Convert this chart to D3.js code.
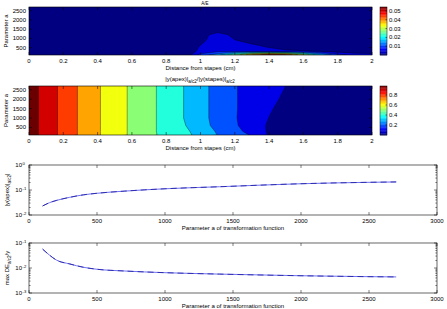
<!DOCTYPE html>
<html><head><meta charset="utf-8">
<script src="https://cdn.jsdelivr.net/npm/d3@7"></script>
<style>
body{margin:0;background:#fff}
text{font-family:"Liberation Sans",Arial,sans-serif;font-size:6px;fill:#000}
</style>
</head><body>
<svg id="c" width="447" height="309"></svg>
<script>
// ---------- data ----------
const distances = [0,0.1,0.2,0.3,0.4,0.5,0.6,0.7,0.8,0.9,1.0,1.1,1.2,1.3,1.4,1.5,1.6,1.7,1.8,1.9,2.0];

// panel 1 field (rows = parameter a, columns = distances)
const gridA1 = [100,300,600,900,1200,1500,2000,2700];
const field1 = [
  [0,0,0,0,0,0,0,0,0,0,0.012,0.018,0.03,0.045,0.054,0.05,0.035,0.02,0.012,0.008,0.007],
  [0,0,0,0,0,0,0,0,0,0.002,0.006,0.009,0.009,0.008,0.007,0.006,0.0055,0.0045,0.003,0.002,0.002],
  [0,0,0,0,0,0,0,0,0,0.002,0.0052,0.0095,0.008,0.006,0.004,0.002,0.001,0,0,0,0],
  [0,0,0,0,0,0,0,0,0,0.001,0.003,0.009,0.0052,0.003,0.001,0,0,0,0,0,0],
  [0,0,0,0,0,0,0,0,0,0,0.002,0.008,0.003,0.001,0,0,0,0,0,0,0],
  [0,0,0,0,0,0,0,0,0,0,0,0,0,0,0,0,0,0,0,0,0],
  [0,0,0,0,0,0,0,0,0,0,0,0,0,0,0,0,0,0,0,0,0],
  [0,0,0,0,0,0,0,0,0,0,0,0,0,0,0,0,0,0,0,0,0]
];
const levels1 = [0.005,0.01,0.015,0.02,0.025,0.03,0.035,0.04,0.045,0.05];
const cbMax1 = 0.0545;
const cbTicks1 = [0.01,0.02,0.03,0.04,0.05];

// panel 2 field
const gridA2 = [100,300,600,1000,1500,2000,2700];
const field2 = [
  [1.05,0.959,0.870,0.785,0.711,0.645,0.583,0.526,0.47,0.44,0.36,0.298,0.25,0.19,0.09,0.07,0.058,0.05,0.044,0.038,0.034],
  [1.05,0.959,0.870,0.785,0.711,0.645,0.583,0.526,0.465,0.43,0.35,0.29,0.225,0.17,0.085,0.065,0.055,0.048,0.042,0.036,0.032],
  [1.05,0.959,0.870,0.785,0.711,0.645,0.583,0.526,0.465,0.41,0.34,0.27,0.21,0.16,0.085,0.065,0.055,0.048,0.042,0.036,0.032],
  [1.05,0.959,0.870,0.785,0.711,0.645,0.583,0.526,0.465,0.401,0.331,0.267,0.206,0.16,0.098,0.07,0.06,0.05,0.044,0.038,0.034],
  [1.05,0.959,0.870,0.785,0.711,0.645,0.583,0.526,0.465,0.401,0.331,0.267,0.206,0.169,0.11,0.07,0.06,0.052,0.045,0.04,0.035],
  [1.05,0.959,0.870,0.785,0.711,0.645,0.583,0.526,0.465,0.401,0.331,0.267,0.206,0.169,0.12,0.085,0.07,0.06,0.05,0.042,0.038],
  [1.05,0.959,0.870,0.785,0.711,0.645,0.583,0.526,0.465,0.401,0.331,0.267,0.206,0.169,0.134,0.099,0.08,0.065,0.055,0.045,0.04]
];
const levels2 = [0.1,0.2,0.3,0.4,0.5,0.6,0.7,0.8,0.9,1.0];
const cbMax2 = 0.98;
const cbTicks2 = [0.2,0.4,0.6,0.8];

const distTicks = [0,0.2,0.4,0.6,0.8,1,1.2,1.4,1.6,1.8,2];
const paramTicks = [500,1000,1500,2000,2500];

// panel 3 & 4 series
const paramA = [100,150,200,300,400,500,700,1000,1400,2000,2500,2700];
const apexAmp = [0.023,0.031,0.038,0.051,0.064,0.074,0.09,0.112,0.135,0.178,0.203,0.21];
const maxDE = [0.057,0.033,0.021,0.0145,0.0107,0.0089,0.0076,0.0065,0.0057,0.0049,0.0045,0.0044];
const aTicks = [0,500,1000,1500,2000,2500,3000];

// ---------- drawing ----------
const svg = d3.select("#c");
function jet(t){
  const c = v => Math.max(0, Math.min(1, v));
  return d3.rgb(255*c(1.5-Math.abs(4*t-3)), 255*c(1.5-Math.abs(4*t-2)), 255*c(1.5-Math.abs(4*t-1)));
}
const TK = 3;
let clipN = 0;

function contourPanel(cfg){
  const {x0,x1,y0,y1,field,rows,levels,cmax,cbTicks,ylab} = cfg;
  const xs = d3.scaleLinear().domain([0,2]).range([x0,x1]);
  const ys = d3.scaleLinear().domain([100,2700]).range([y1,y0]);
  const id = "clip"+(clipN++);
  svg.append("clipPath").attr("id",id).append("rect")
    .attr("x",x0).attr("y",y0).attr("width",x1-x0).attr("height",y1-y0);
  const g = svg.append("g").attr("clip-path",`url(#${id})`);
  g.append("rect").attr("x",x0).attr("y",y0).attr("width",x1-x0).attr("height",y1-y0).attr("fill",jet(0));
  const n = distances.length, m = rows.length;
  const gx = d3.scaleLinear().domain([0.5,n-0.5]).range([distances[0],distances[n-1]]);
  const gy = d3.scaleLinear().domain(rows.map((_,i)=>i+0.5)).range(rows);
  const proj = d3.geoTransform({point(x,y){ this.stream.point(xs(gx(x)), ys(gy(y))); }});
  const path = d3.geoPath(proj);
  const cs = d3.contours().size([n,m]).thresholds(levels)(field.flat());
  g.selectAll("path.f").data(cs).join("path").attr("class","f")
    .attr("d",path).attr("fill",d=>jet(d.value/cmax)).attr("stroke","none");
  g.selectAll("path.l").data(cs).join("path").attr("class","l")
    .attr("d",path).attr("fill","none").attr("stroke","#000").attr("stroke-width",0.45).attr("stroke-opacity",0.8);

  // box
  svg.append("rect").attr("x",x0).attr("y",y0).attr("width",x1-x0).attr("height",y1-y0)
    .attr("fill","none").attr("stroke","#000").attr("stroke-width",0.6);
  // ticks
  const ax = svg.append("g").attr("stroke","#000").attr("stroke-width",0.5);
  distTicks.forEach(t=>{
    ax.append("line").attr("x1",xs(t)).attr("x2",xs(t)).attr("y1",y1).attr("y2",y1-TK);
    ax.append("line").attr("x1",xs(t)).attr("x2",xs(t)).attr("y1",y0).attr("y2",y0+TK);
  });
  paramTicks.forEach(t=>{
    ax.append("line").attr("x1",x0).attr("x2",x0+TK).attr("y1",ys(t)).attr("y2",ys(t));
    ax.append("line").attr("x1",x1).attr("x2",x1-TK).attr("y1",ys(t)).attr("y2",ys(t));
  });
  distTicks.forEach(t=>{
    svg.append("text").attr("x",xs(t)).attr("y",y1+8).attr("text-anchor","middle").text(String(+t.toFixed(1)));
  });
  paramTicks.forEach(t=>{
    svg.append("text").attr("x",x0-3).attr("y",ys(t)+2).attr("text-anchor","end").text(t);
  });
  svg.append("text").attr("x",(x0+x1)/2).attr("y",y1+15).attr("text-anchor","middle").text("Distance from stapes (cm)");
  svg.append("text").attr("transform",`translate(8,${(y0+y1)/2}) rotate(-90)`).attr("text-anchor","middle").text(ylab);

  // colorbar
  const cx0 = 380, cx1 = 387;
  const cs2 = d3.scaleLinear().domain([0,cmax]).range([y1,y0]);
  const steps = d3.range(0,64);
  svg.append("g").selectAll("rect").data(steps).join("rect")
    .attr("x",cx0).attr("width",cx1-cx0)
    .attr("y",i=>cs2(cmax*(i+1)/64)).attr("height",i=>cs2(cmax*i/64)-cs2(cmax*(i+1)/64)+0.3)
    .attr("fill",i=>jet((i+0.5)/64));
  svg.append("rect").attr("x",cx0).attr("y",y0).attr("width",cx1-cx0).attr("height",y1-y0)
    .attr("fill","none").attr("stroke","#000").attr("stroke-width",0.5);
  cbTicks.forEach(t=>{
    svg.append("line").attr("x1",cx1).attr("x2",cx1-1.5).attr("y1",cs2(t)).attr("y2",cs2(t)).attr("stroke","#000").attr("stroke-width",0.5);
    svg.append("text").attr("x",cx1+2).attr("y",cs2(t)+2).text(String(t));
  });
}

contourPanel({x0:29,x1:372,y0:7,y1:55,field:field1,rows:gridA1,levels:levels1,cmax:cbMax1,cbTicks:cbTicks1,ylab:"Parameter a"});
contourPanel({x0:29,x1:372,y0:86,y1:135,field:field2,rows:gridA2,levels:levels2,cmax:cbMax2,cbTicks:cbTicks2,ylab:"Parameter a"});

// titles
svg.append("text").attr("x",205).attr("y",4.5).attr("text-anchor","middle").style("font-size","4.5px").text("A/E");
const t2 = svg.append("text").attr("x",200).attr("y",81).attr("text-anchor","middle");
t2.append("tspan").text("|y(apex)|");
t2.append("tspan").attr("dy",1.5).style("font-size","4.5px").text("a/c2");
t2.append("tspan").attr("dy",-1.5).text("/|y(stapes)|");
t2.append("tspan").attr("dy",1.5).style("font-size","4.5px").text("a/c2");

function linePanel(cfg){
  const {x0,x1,y0,y1,ydom,xv,yv,ylabParts} = cfg;
  const xs = d3.scaleLinear().domain([0,3000]).range([x0,x1]);
  const ys = d3.scaleLog().domain(ydom).range([y1,y0]);
  svg.append("rect").attr("x",x0).attr("y",y0).attr("width",x1-x0).attr("height",y1-y0)
    .attr("fill","#fff").attr("stroke","#000").attr("stroke-width",0.6);
  const ax = svg.append("g").attr("stroke","#000").attr("stroke-width",0.5);
  aTicks.forEach(t=>{
    ax.append("line").attr("x1",xs(t)).attr("x2",xs(t)).attr("y1",y1).attr("y2",y1-TK);
    ax.append("line").attr("x1",xs(t)).attr("x2",xs(t)).attr("y1",y0).attr("y2",y0+TK);
    svg.append("text").attr("x",xs(t)).attr("y",y1+8).attr("text-anchor","middle").text(t);
  });
  const lo = Math.log10(ydom[0]), hi = Math.log10(ydom[1]);
  for(let e=lo;e<=hi;e++){
    const v = Math.pow(10,e);
    ax.append("line").attr("x1",x0).attr("x2",x0+TK).attr("y1",ys(v)).attr("y2",ys(v));
    ax.append("line").attr("x1",x1).attr("x2",x1-TK).attr("y1",ys(v)).attr("y2",ys(v));
    svg.append("text").attr("x",x0-7).attr("y",ys(v)+2).attr("text-anchor","end").text("10");
    svg.append("text").attr("x",x0-6.5).attr("y",ys(v)-0.5).style("font-size","4.2px").text(String(e));
    if(e<hi){
      for(let k=2;k<10;k++){
        const mv = k*v;
        ax.append("line").attr("x1",x0).attr("x2",x0+1.6).attr("y1",ys(mv)).attr("y2",ys(mv));
        ax.append("line").attr("x1",x1).attr("x2",x1-1.6).attr("y1",ys(mv)).attr("y2",ys(mv));
      }
    }
  }
  const line = d3.line().x((d,i)=>xs(xv[i])).y(d=>ys(d)).curve(d3.curveMonotoneX);
  svg.append("path").datum(yv).attr("d",line).attr("fill","none").attr("stroke","#7070f0").attr("stroke-width",1);
  svg.append("path").datum(yv).attr("d",line).attr("fill","none").attr("stroke","#1a1aa0").attr("stroke-width",0.8).attr("stroke-dasharray","6,4");
  svg.append("text").attr("x",(x0+x1)/2).attr("y",y1+15).attr("text-anchor","middle").text("Parameter a of transformation function");
  const yl = svg.append("text").attr("transform",`translate(9,${(y0+y1)/2}) rotate(-90)`).attr("text-anchor","middle");
  ylabParts.forEach(p=>{
    yl.append("tspan").attr("dy",p.sub?1.5:(p.after?-1.5:0)).style("font-size",p.sub?"4.5px":null).text(p.t);
  });
}

linePanel({x0:29,x1:437,y0:165,y1:215,ydom:[0.01,1],xv:paramA,yv:apexAmp,
  ylabParts:[{t:"|y(apex)|"},{t:"a/c2",sub:true},{t:"|",after:true}]});
linePanel({x0:29,x1:437,y0:243,y1:293,ydom:[0.001,0.1],xv:paramA,yv:maxDE,
  ylabParts:[{t:"max DE"},{t:"a/c2",sub:true},{t:"/y",after:true}]});
</script>
</body></html>
